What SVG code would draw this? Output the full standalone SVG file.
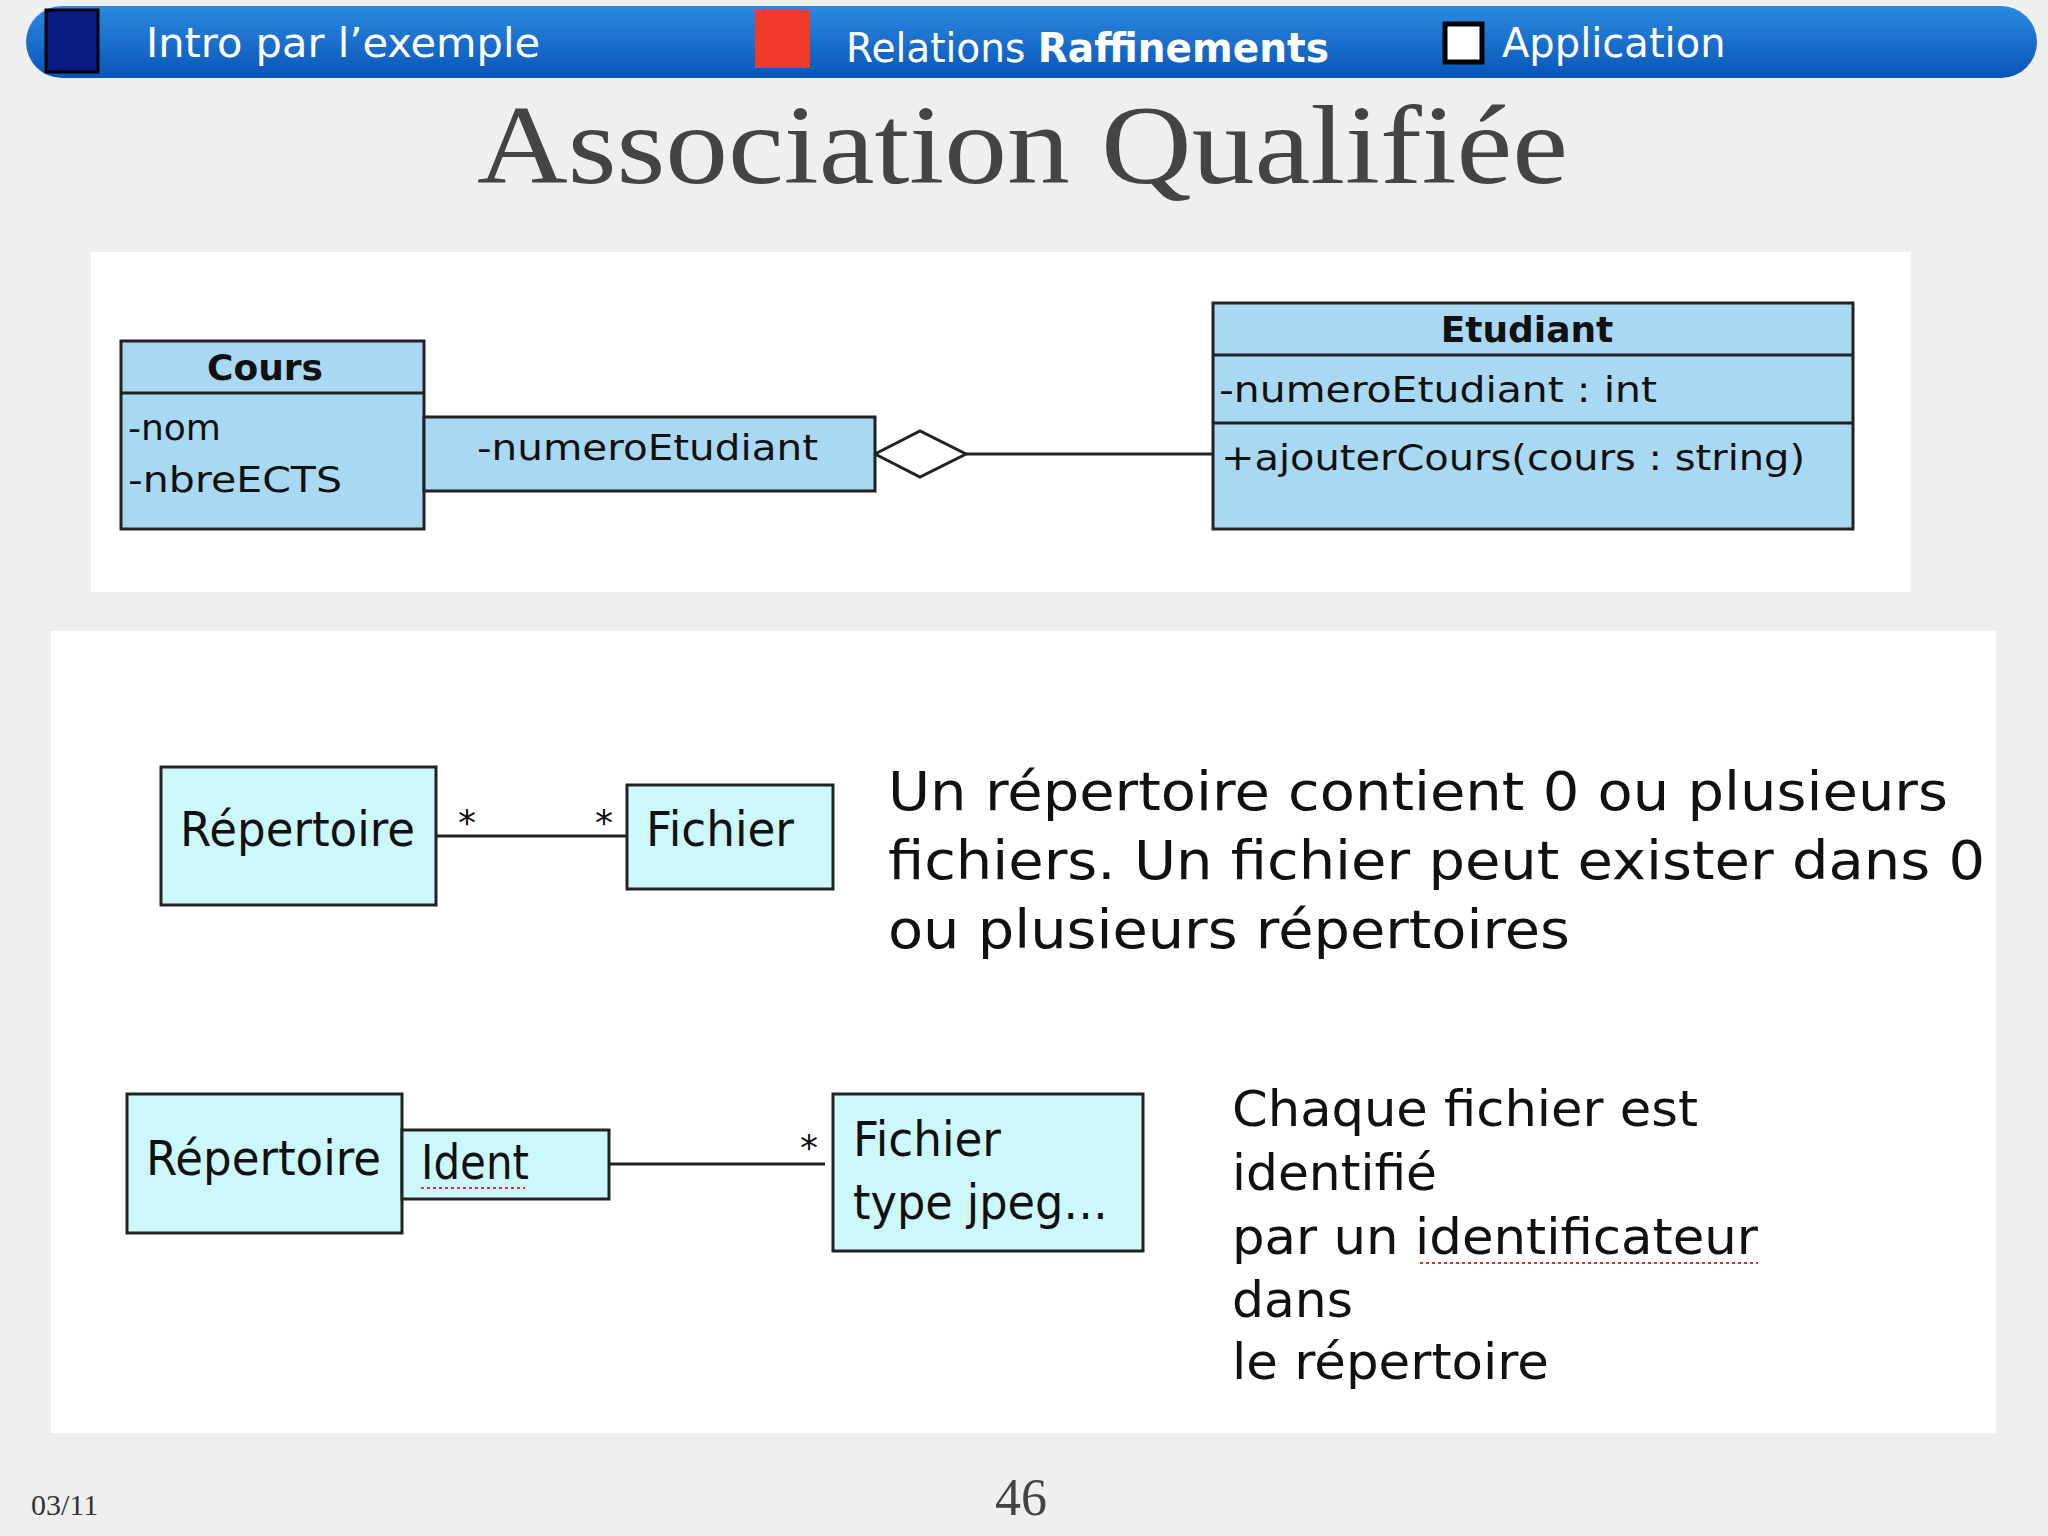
<svg xmlns="http://www.w3.org/2000/svg" width="2048" height="1536" viewBox="0 0 2048 1536">
<defs>
<linearGradient id="bar" x1="0" y1="0" x2="0" y2="1"><stop offset="0" stop-color="#2a8ae0"/><stop offset="1" stop-color="#0a55b8"/></linearGradient>
<style>
.h{font-family:"DejaVu Sans","Noto Sans",sans-serif;font-size:40px;fill:#fff}
.u{font-family:"DejaVu Sans",sans-serif;font-size:36px;fill:#111}
.c{stroke:#222;stroke-width:3;fill:#a9d9f2}
.q{stroke:#222;stroke-width:3;fill:#ccf8fc}
.t{font-family:"DejaVu Sans","Open Sans",sans-serif;font-size:48px;fill:#111}
.p{font-family:"DejaVu Sans","Open Sans",sans-serif;font-size:54px;fill:#111}
.r{font-family:"DejaVu Sans","Open Sans",sans-serif;font-size:50px;fill:#111}
.ln{stroke:#222;stroke-width:3;fill:none}
</style>
</defs>
<rect width="2048" height="1536" fill="#efefef"/>
<g id="header">
<rect x="26" y="6" width="2011" height="72" rx="36" fill="url(#bar)"/>
<rect x="46" y="10" width="52" height="62" fill="#0a1a80" stroke="#000" stroke-width="3"/>
<text class="h" x="146" y="57" textLength="394" lengthAdjust="spacingAndGlyphs">Intro par l’exemple</text>
<rect x="755" y="10" width="55" height="58" fill="#f03a2a"/>
<text class="h" x="846" y="62" textLength="483" lengthAdjust="spacingAndGlyphs">Relations <tspan font-weight="bold">Raffinements</tspan></text>
<rect x="1445" y="24" width="37" height="38" fill="#fff" stroke="#000" stroke-width="5"/>
<text class="h" x="1502" y="57">Application</text>
</g>
<text x="477" y="183" textLength="1091" lengthAdjust="spacingAndGlyphs" font-family="Liberation Serif,serif" font-size="112" fill="#444">Association Qualifiée</text>
<rect x="91" y="252" width="1820" height="340" fill="#fff"/>
<rect x="51" y="631" width="1945" height="802" fill="#fff"/>
<g id="connectors">
<polygon points="875,454 920,431 966,454 920,477" fill="#fff" stroke="#222" stroke-width="3"/>
<line class="ln" x1="966" y1="454" x2="1214" y2="454"/>
<line class="ln" x1="436" y1="836" x2="627" y2="836"/>
<text class="u" x="458" y="835">*</text><text class="u" x="595" y="835">*</text>
<line class="ln" x1="609" y1="1164" x2="825" y2="1164"/>
<text class="u" x="800" y="1160">*</text>
</g>
<g id="cours">
<rect class="c" x="121" y="341" width="303" height="188"/>
<line class="ln" x1="121" y1="393" x2="424" y2="393"/>
<text class="u" x="265" y="380" text-anchor="middle" font-weight="bold">Cours</text>
<text class="u" x="128" y="440">-nom</text>
<text class="u" x="128" y="492" textLength="214" lengthAdjust="spacingAndGlyphs">-nbreECTS</text>
</g>
<g id="qualifier1">
<rect class="c" x="424" y="417" width="451" height="74"/>
<text class="u" x="477" y="460" textLength="341" lengthAdjust="spacingAndGlyphs">-numeroEtudiant</text>
</g>
<g id="etudiant">
<rect class="c" x="1213" y="303" width="640" height="226"/>
<line class="ln" x1="1213" y1="355" x2="1853" y2="355"/>
<line class="ln" x1="1213" y1="423" x2="1853" y2="423"/>
<text class="u" x="1527" y="342" text-anchor="middle" font-weight="bold">Etudiant</text>
<text class="u" x="1219" y="402" textLength="438" lengthAdjust="spacingAndGlyphs">-numeroEtudiant : int</text>
<text class="u" x="1221" y="470" textLength="584" lengthAdjust="spacingAndGlyphs">+ajouterCours(cours : string)</text>
</g>
<g id="repertoire1">
<rect class="q" x="161" y="767" width="275" height="138"/>
<text class="t" x="180" y="846" textLength="235" lengthAdjust="spacingAndGlyphs">Répertoire</text>
</g>
<g id="fichier1">
<rect class="q" x="627" y="785" width="206" height="104"/>
<text class="t" x="646" y="846" textLength="148" lengthAdjust="spacingAndGlyphs">Fichier</text>
</g>
<g id="para1">
<text class="p" x="888" y="810" textLength="1060" lengthAdjust="spacingAndGlyphs">Un répertoire contient 0 ou plusieurs</text>
<text class="p" x="888" y="879" textLength="1097" lengthAdjust="spacingAndGlyphs">fichiers. Un fichier peut exister dans 0</text>
<text class="p" x="888" y="948" textLength="682" lengthAdjust="spacingAndGlyphs">ou plusieurs répertoires</text>
</g>
<g id="repertoire2">
<rect class="q" x="127" y="1094" width="275" height="139"/>
<text class="t" x="146" y="1175" textLength="235" lengthAdjust="spacingAndGlyphs">Répertoire</text>
</g>
<g id="ident">
<rect class="q" x="402" y="1130" width="207" height="69"/>
<text class="t" x="421" y="1179" textLength="108" lengthAdjust="spacingAndGlyphs">Ident</text>
<line x1="421" y1="1188" x2="525" y2="1188" stroke="#d33" stroke-width="2" stroke-dasharray="3,3"/>
</g>
<g id="fichier2">
<rect class="q" x="833" y="1094" width="310" height="157"/>
<text class="t" x="853" y="1156" textLength="148" lengthAdjust="spacingAndGlyphs">Fichier</text>
<text class="t" x="853" y="1219" textLength="255" lengthAdjust="spacingAndGlyphs">type jpeg…</text>
</g>
<g id="para2">
<text class="r" x="1232" y="1126" textLength="466" lengthAdjust="spacingAndGlyphs">Chaque fichier est</text>
<text class="r" x="1232" y="1190" textLength="205" lengthAdjust="spacingAndGlyphs">identifié</text>
<text class="r" x="1232" y="1254" textLength="526" lengthAdjust="spacingAndGlyphs">par un identificateur</text>
<line x1="1420" y1="1263" x2="1758" y2="1263" stroke="#d33" stroke-width="2" stroke-dasharray="3,3"/>
<text class="r" x="1232" y="1317" textLength="121" lengthAdjust="spacingAndGlyphs">dans</text>
<text class="r" x="1232" y="1379" textLength="317" lengthAdjust="spacingAndGlyphs">le répertoire</text>
</g>
<text x="31" y="1515" font-family="Liberation Serif,serif" font-size="30" fill="#333">03/11</text>
<text x="1021" y="1515" text-anchor="middle" font-family="Liberation Serif,serif" font-size="52" fill="#444">46</text>
</svg>
